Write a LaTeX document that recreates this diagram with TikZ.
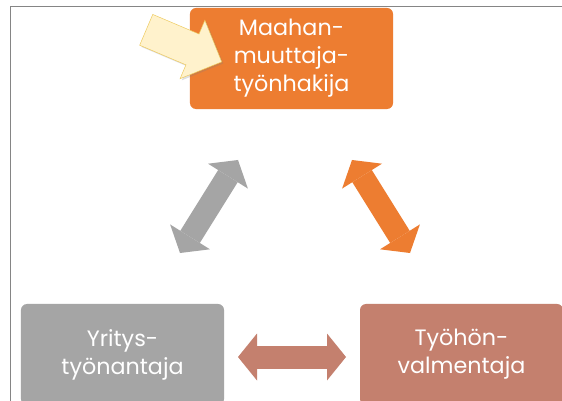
\documentclass[tikz,border=0pt]{standalone}
\usepackage{fontspec}
\setmainfont{Poppins}
\usetikzlibrary{arrows.meta,positioning,shapes.arrows,shadows}

\definecolor{boxorange}{HTML}{ED7D31}
\definecolor{boxgray}{HTML}{A5A5A5}
\definecolor{boxbrown}{HTML}{C4806E}
\definecolor{hintfill}{HTML}{FFF2CC}
\definecolor{hintline}{HTML}{EDC95A}
\definecolor{framegray}{HTML}{858585}

\tikzset{
    box/.style={rounded corners=0.18cm,minimum width=6.09cm,minimum height=3.03cm,
        inner sep=0pt,align=center,text=white,font=\fontsize{19}{24}\selectfont},
    fat/.style={line width=0.69cm,
        {Triangle[width=1.41cm,length=0.57cm,line width=0pt]}-{Triangle[width=1.41cm,length=0.57cm,line width=0pt]}}
}

\begin{document}
\begin{tikzpicture}[x=0.03cm,y=-0.03cm]
        \clip (0,0) rectangle (562,401);
        \fill[white] (0,0) rectangle (562,401);

        % Frame
        \draw[framegray,line width=0.05cm] (562,6.5) -- (10.5,6.5) -- (10.5,401);

        % Boxes
        \node[box,fill=boxorange] (migrant) at (291.5,58.5) {Maahan-\\muuttaja-\\työnhakija};
        \node[box,fill=boxgray] (employer) at (122.5,354.5) {Yritys-\\työnantaja};
        \node[box,fill=boxbrown] (coach) at (461.5,354.5) {Työhön-\\valmentaja};

        % Arrow ends
        \coordinate (gA) at (180,253);
        \coordinate (gB) at (238,160);
        \coordinate (oA) at (352,160);
        \coordinate (oB) at (410,253);
        \coordinate (bA) at (238,357);
        \coordinate (bB) at (346,357);

        % Arrows
        \draw[fat,boxgray] (gA) -- (gB);
        \draw[fat,boxorange] (oA) -- (oB);
        \draw[fat,boxbrown] (bA) -- (bB);

        % Pointer
        \node[single arrow,draw=hintline,fill=hintfill,thin,inner xsep=0pt,inner ysep=0.495cm,
            minimum height=2.46cm,single arrow head extend=0.45cm,
            anchor=tip,rotate=-23,drop shadow={opacity=0.25,shadow xshift=0.05cm,shadow yshift=-0.05cm}]
            (pointer) at (222,62) {};
    \end{tikzpicture}
\end{document}
